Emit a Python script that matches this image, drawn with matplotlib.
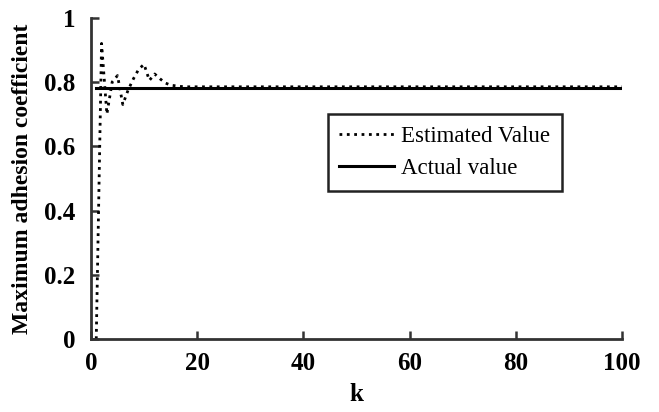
import matplotlib.pyplot as plt
from matplotlib.ticker import FuncFormatter

plt.rcParams['font.family'] = ['Liberation Serif', 'DejaVu Serif']

k = list(range(1, 101))
est_head = [0, 0.92, 0.70, 0.80, 0.82, 0.73, 0.775, 0.81, 0.84, 0.855,
            0.805, 0.825, 0.81, 0.797, 0.79, 0.788, 0.786]
estimated = est_head + [0.785] * (len(k) - len(est_head))
actual = [0.78] * len(k)

fig = plt.figure(figsize=(6.59, 4.12), dpi=100)
ax = fig.add_axes([0.138, 0.177, 0.806, 0.78])

ax.plot(k, estimated, color="black", linestyle=":", linewidth=2.0, label="Estimated Value")
ax.plot(k, actual, color="black", linestyle="-", linewidth=2.2, label="Actual value")

ax.set_xlim(0, 100)
ax.set_ylim(0, 1)
ax.set_xticks([0, 20, 40, 60, 80, 100])
ax.set_yticks([0, 0.2, 0.4, 0.6, 0.8, 1])
ax.yaxis.set_major_formatter(FuncFormatter(lambda v, p: f"{v:g}"))

for s in ["top", "right"]:
    ax.spines[s].set_visible(False)
for s in ["left", "bottom"]:
    ax.spines[s].set_linewidth(2)
    ax.spines[s].set_color("#333333")
ax.tick_params(direction="in", length=6, width=1.8, color="#333333",
               labelsize=18)
ax.tick_params(axis="x", pad=9)
ax.tick_params(axis="y", pad=11)
for lbl in ax.get_xticklabels() + ax.get_yticklabels():
    lbl.set_fontweight("bold")

ax.set_xlabel("k", fontsize=18, fontweight="bold", labelpad=6)
ax.set_ylabel("Maximum adhesion coefficient", fontsize=17, fontweight="bold", labelpad=8)

leg = ax.legend(loc="upper left", bbox_to_anchor=(0.446, 0.70), fontsize=16.5,
                fancybox=False, framealpha=1, edgecolor="#222222",
                handlelength=2.4, handletextpad=0.3, borderpad=0.5,
                labelspacing=0.5, borderaxespad=0)
leg.get_frame().set_linewidth(1.8)

fig.savefig("out.png", dpi=100)
